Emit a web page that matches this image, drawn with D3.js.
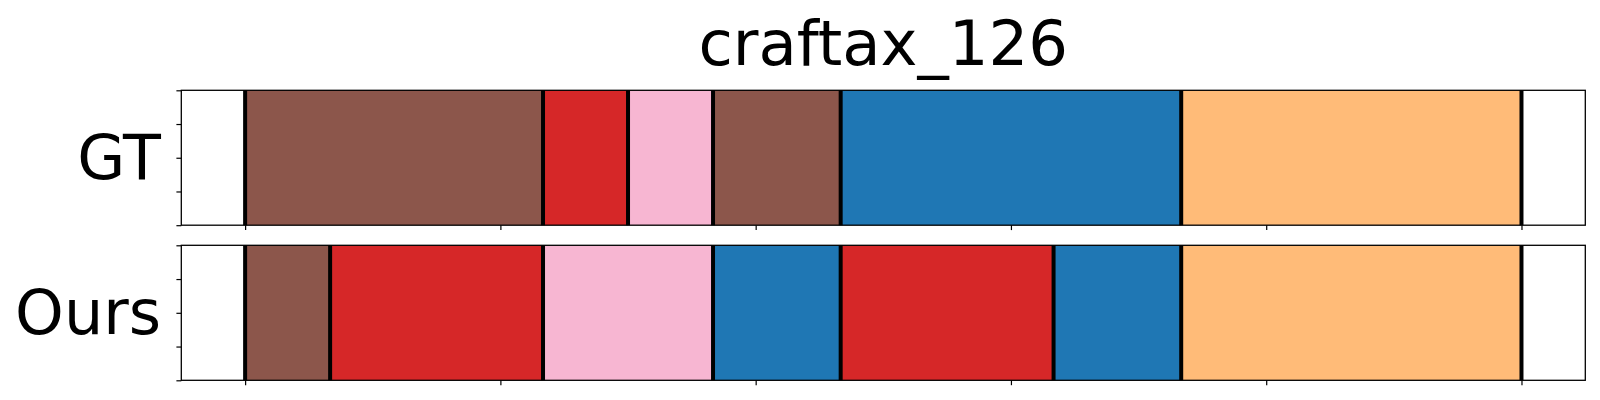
<!DOCTYPE html>
<html>
<head>
<meta charset="utf-8">
<script src="https://cdn.jsdelivr.net/npm/d3@7"></script>
<style>
html, body { margin: 0; padding: 0; background: #fff; }
svg { display: block; }
text { font-family: "DejaVu Sans", sans-serif; }
</style>
</head>
<body>
<script>
// ---- data ----
const title = "craftax_126";
const rowNames = ["GT", "Ours"];
const xTicks = [0, 100, 200, 300, 400, 500];
const yTicks = [0, 0.25, 0.5, 0.75, 1];
const gtBounds = [0, 116.7, 150, 183.3, 233.3, 366.7, 500];
const gtClasses = ["brown", "red", "pink", "brown", "blue", "orange"];
const oursBounds = [0, 33.3, 116.7, 183.3, 233.3, 316.7, 366.7, 500];
const oursClasses = ["brown", "red", "pink", "blue", "red", "blue", "orange"];
const classNames = ["brown", "red", "pink", "blue", "orange"];
const classColors = ["#8c564b", "#d62728", "#f7b6d2", "#1f77b4", "#ffbb78"];

const W = 1600, H = 400;
const svg = d3.select("body").append("svg").attr("width", W).attr("height", H);
const color = d3.scaleOrdinal().domain(classNames).range(classColors);

const x = d3.scaleLinear().domain([-25, 525]).range([181.3, 1585.3]);
const panels = [
  { name: rowNames[0], bounds: gtBounds, classes: gtClasses, top: 90.3, bottom: 225.2 },
  { name: rowNames[1], bounds: oursBounds, classes: oursClasses, top: 245.3, bottom: 380.3 }
];

svg.append("text")
  .attr("x", (x.range()[0] + x.range()[1]) / 2)
  .attr("y", 65)
  .attr("text-anchor", "middle")
  .attr("font-size", 62.5)
  .attr("fill", "#000")
  .text(title);

panels.forEach(p => {
  const y = d3.scaleLinear().domain([0, 1]).range([p.bottom, p.top]);
  const g = svg.append("g");
  const segs = p.classes.map((c, i) => ({ c, s: p.bounds[i], e: p.bounds[i + 1] }));
  g.selectAll("rect.seg").data(segs).enter().append("rect")
    .attr("class", "seg")
    .attr("x", d => x(d.s))
    .attr("width", d => x(d.e) - x(d.s))
    .attr("y", y(1))
    .attr("height", y(0) - y(1))
    .attr("fill", d => color(d.c));
  g.selectAll("line.bd").data(p.bounds).enter().append("line")
    .attr("class", "bd")
    .attr("x1", d => x(d)).attr("x2", d => x(d))
    .attr("y1", y(1)).attr("y2", y(0))
    .attr("stroke", "#000").attr("stroke-width", 4);

  // axes
  const xa = d3.axisBottom(x).tickValues(xTicks).tickSize(4.9).tickFormat("");
  const xg = g.append("g").attr("transform", `translate(0,${p.bottom})`).call(xa);
  const ya = d3.axisLeft(y).tickValues(yTicks).tickSize(4.9).tickFormat("");
  const yg = g.append("g").attr("transform", `translate(${x.range()[0]},0)`).call(ya);
  [xg, yg].forEach(a => {
    a.select(".domain").remove();
    a.selectAll(".tick line").attr("stroke", "#000").attr("stroke-width", 1.2);
  });
  // frame
  g.append("rect")
    .attr("x", x.range()[0]).attr("y", p.top)
    .attr("width", x.range()[1] - x.range()[0])
    .attr("height", p.bottom - p.top)
    .attr("fill", "none").attr("stroke", "#000").attr("stroke-width", 1.3);

  g.append("text")
    .attr("x", 161)
    .attr("y", (p.top + p.bottom) / 2 + 21)
    .attr("text-anchor", "end")
    .attr("font-size", 62)
    .attr("fill", "#000")
    .text(p.name);
});
</script>
</body>
</html>
